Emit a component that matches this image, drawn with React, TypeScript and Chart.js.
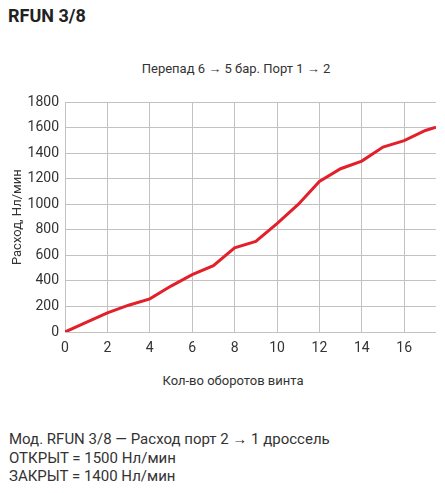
import { useEffect, useRef } from 'react';
import { Chart, registerables, ChartConfiguration } from 'chart.js';

Chart.register(...registerables);

const turns = [0, 1, 2, 3, 4, 5, 6, 7, 8, 9, 10, 11, 12, 13, 14, 15, 16, 17, 17.5];
const flow = [0, 75, 150, 210, 260, 360, 450, 520, 660, 710, 850, 1000, 1180, 1280, 1340, 1450, 1500, 1580, 1605];
const xTicks = [0, 2, 4, 6, 8, 10, 12, 14, 16];
const yTicks = [0, 200, 400, 600, 800, 1000, 1200, 1400, 1600, 1800];

const textColor = '#333333';
const gridColor = '#c2c2c2';
const fontFamily = 'Roboto, "Noto Sans", sans-serif';

export default function App() {
  const canvasRef = useRef<HTMLCanvasElement>(null);
  const chartRef = useRef<Chart | null>(null);

  useEffect(() => {
    if (!canvasRef.current) return;
    if (chartRef.current) chartRef.current.destroy();

    const config: ChartConfiguration = {
      type: 'line',
      data: {
        datasets: [
          {
            data: turns.map((x, i) => ({ x, y: flow[i] })),
            borderColor: '#e3202a',
            borderWidth: 3,
            pointRadius: 0,
            tension: 0,
            fill: false,
          },
        ],
      },
      options: {
        responsive: false,
        animation: false,
        layout: { padding: { top: 7, right: 9, left: 0, bottom: 0 } },
        plugins: {
          legend: { display: false },
          tooltip: { enabled: false },
        },
        scales: {
          x: {
            type: 'linear',
            min: 0,
            max: 17.5,
            border: { display: false },
            grid: { color: gridColor, lineWidth: 1, drawTicks: false },
            afterBuildTicks: (scale) => {
              scale.ticks = xTicks.map((value) => ({ value }));
            },
            afterFit: (scale) => {
              scale.height = 26;
            },
            ticks: {
              autoSkip: false,
              maxRotation: 0,
              padding: 8,
              color: textColor,
              font: { family: fontFamily, size: 14 },
              callback: (value) => String(value),
            },
          },
          y: {
            min: 0,
            max: 1800,
            border: { display: false },
            grid: { color: gridColor, lineWidth: 1, drawTicks: false },
            afterBuildTicks: (scale) => {
              scale.ticks = yTicks.map((value) => ({ value }));
            },
            afterFit: (scale) => {
              scale.width = 65;
            },
            title: {
              display: true,
              text: 'Расход, Нл/мин',
              color: textColor,
              font: { family: fontFamily, size: 13 },
              padding: { top: 10, bottom: 0 },
            },
            ticks: {
              autoSkip: false,
              padding: 6,
              color: textColor,
              font: { family: fontFamily, size: 14 },
              callback: (value) => String(value),
            },
          },
        },
      },
    };

    chartRef.current = new Chart(canvasRef.current, config);

    return () => {
      if (chartRef.current) {
        chartRef.current.destroy();
        chartRef.current = null;
      }
    };
  }, []);

  return (
    <div
      style={{
        position: 'absolute',
        left: 0,
        top: 0,
        width: 445,
        height: 493,
        background: '#fff',
        fontFamily,
        color: textColor,
      }}
    >
      <div style={{ position: 'absolute', left: 8, top: 5, fontSize: 18, fontWeight: 700, color: '#222' }}>
        RFUN 3/8
      </div>
      <div style={{ position: 'absolute', left: 0, width: 472, top: 61, textAlign: 'center', fontSize: 13 }}>
        Перепад 6 → 5 бар. Порт 1 → 2
      </div>
      <div style={{ position: 'absolute', left: 88, top: 88 }}>
        <canvas ref={canvasRef} width={445} height={270} style={{ position: 'absolute', left: -88, top: 0 }}></canvas>
      </div>
      <div style={{ position: 'absolute', left: 0, width: 466, top: 373, textAlign: 'center', fontSize: 13 }}>
        Кол-во оборотов винта
      </div>
      <div style={{ position: 'absolute', left: 9, top: 430, fontSize: 15, lineHeight: '18.5px' }}>
        <div>Мод. RFUN 3/8 — Расход порт 2 → 1 дроссель</div>
        <div>ОТКРЫТ = 1500 Нл/мин</div>
        <div>ЗАКРЫТ = 1400 Нл/мин</div>
      </div>
    </div>
  );
}
